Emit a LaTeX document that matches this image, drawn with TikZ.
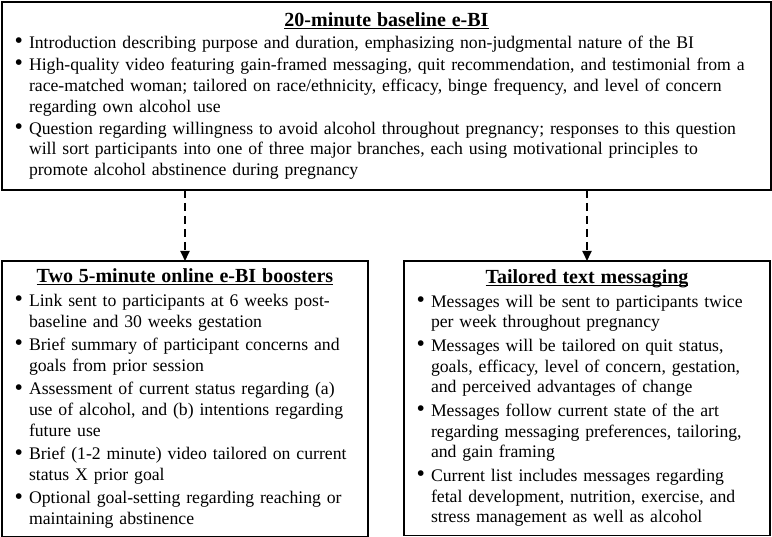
\documentclass[tikz,border=0pt]{standalone}
\usepackage{fontspec}
\setmainfont{Liberation Serif}
\usetikzlibrary{arrows.meta, positioning}
\tikzset{
  basebox/.style={
    rectangle, draw=black, align=left, outer sep=0pt, inner xsep=4pt, inner ysep=8pt,
    font=\fontsize{17.7}{20.8}\selectfont
  },
  mainbox/.style={basebox, line width=2pt, text width=761pt, minimum height=188pt},
  branchbox/.style={basebox, line width=1.4pt, text width=358pt, minimum height=274.5pt},
  dasharrow/.style={-{Triangle[length=10pt,width=9pt]}, line width=1.8pt, dash pattern=on 8pt off 5pt}
}
\newcommand{\boxhead}[2][1.5pt]{{\centering\fontsize{20}{20.8}\selectfont\bfseries
  \underline{\raisebox{0pt}[\height][0pt]{#2}}\par}\setlength{\parskip}{#1}}
\newcommand{\bitem}[1]{\par\hangindent=23pt\hangafter=0\noindent
  \llap{\raisebox{-0.4pt}{\scalebox{1.35}{\textbullet}}\hspace{6pt}}#1\par}

\begin{document}
\begin{tikzpicture}[x=1pt, y=1pt]
  \useasboundingbox (0,0) rectangle (772,-537);
  \node[mainbox, anchor=north] (baseline) at (386.5,-2) {%
    \boxhead[1.2pt]{20-minute baseline e-BI}
    \bitem{Introduction describing purpose and duration, emphasizing non-judgmental nature of the BI}
    \bitem{High-quality video featuring gain-framed messaging, quit recommendation, and testimonial from a\newline
      race-matched woman; tailored on race/ethnicity, efficacy, binge frequency, and level of concern\newline
      regarding own alcohol use}
    \bitem{Question regarding willingness to avoid alcohol throughout pregnancy; responses to this question\newline
      will sort participants into one of three major branches, each using motivational principles to\newline
      promote alcohol abstinence during pregnancy}};
  \node[branchbox, below=71pt of baseline.south west, anchor=north west] (booster) {%
    \boxhead[2.6pt]{Two 5-minute online e-BI boosters}
    \bitem{Link sent to participants at 6 weeks post-\newline baseline and 30 weeks gestation}
    \bitem{Brief summary of participant concerns and\newline goals from prior session}
    \bitem{Assessment of current status regarding (a)\newline
      use of alcohol, and (b) intentions regarding\newline future use}
    \bitem{Brief (1-2 minute) video tailored on current\newline status X prior goal}
    \bitem{Optional goal-setting regarding reaching or\newline maintaining abstinence}};
  \node[branchbox, right=36pt of booster.north east, anchor=north west] (texting) {%
    \boxhead[2.6pt]{Tailored text messaging}
    \bitem{Messages will be sent to participants twice\newline per week throughout pregnancy}
    \bitem{Messages will be tailored on quit status,\newline
      goals, efficacy, level of concern, gestation,\newline and perceived advantages of change}
    \bitem{Messages follow current state of the art\newline
      regarding messaging preferences, tailoring,\newline and gain framing}
    \bitem{Current list includes messages regarding\newline
      fetal development, nutrition, exercise, and\newline stress management as well as alcohol}};

  \draw[dasharrow] (booster.north |- baseline.south) -- (booster.north);
  \draw[dasharrow] (texting.north |- baseline.south) -- (texting.north);
\end{tikzpicture}
\end{document}
